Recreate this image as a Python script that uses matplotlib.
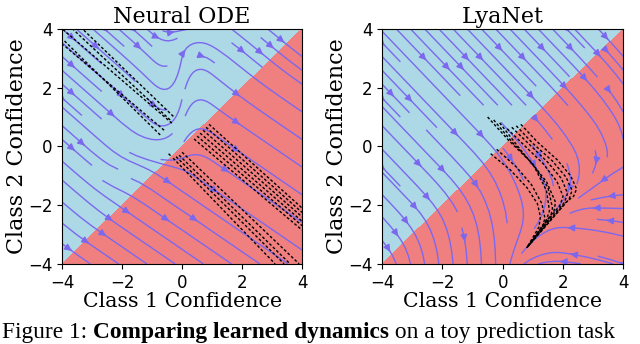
import numpy as np
import matplotlib.pyplot as plt

# coarse velocity field: direction of flow (degrees) at
# each grid node, rows from y=4 (top) down to y=-4, columns x=-4..4
grid_x = [-4, -3, -2, -1, 0, 1, 2, 3, 4]
grid_y = [4, 3, 2, 1, 0, -1, -2, -3, -4]

node_angles = [
    [-42, -42, -42, -42,  20, -20, -40, -40, -40],
    [-42, -42, -42, -45,  80, -38, -40, -40, -38],
    [-42, -42, -42, -45,  80, -40, -38, -36, -35],
    [-42, -42, -42, -45,  75, -36, -35, -35, -35],
    [-42, -42, -40,   0,  60, -35, -35, -35, -35],
    [-42, -40, -15, -35, -35, -35, -35, -35, -35],
    [-42, -40, -35, -35, -35, -35, -35, -35, -35],
    [-40, -35, -35, -35, -35, -35, -35, -35, -35],
    [-35, -35, -35, -35, -35, -35, -35, -35, -35],
]

lya_angles = [
    [-47, -47, -47, -47, -47, -47, -47, -47, -48],
    [-47, -47, -47, -47, -47, -47, -47, -48, -50],
    [-47, -47, -47, -47, -47, -47, -48, -50, -55],
    [-47, -47, -47, -47, -47, -48, -50, -53, -62],
    [-47, -47, -47, -47, -50, -55, -58, -65, -85],
    [-47, -47, -47, -50, -65, -60, -70, -120, -170],
    [-47, -47, -55, -65, -75, -80, -133, 180, 180],
    [-47, -60, -75, -80, -85, -130, 165, 170, 165],
    [-60, -80, -85, -88, -90, -160, 175, 165, 160],
]

# black dashed trajectories (x list, y list)
node_traj = [
    ([-0.34, -3.96], [0.79, 3.97]),
    ([-0.40, -3.62], [0.90, 3.97]),
    ([-0.29, -3.29], [1.02, 3.97]),
    ([-0.73, -3.96], [0.39, 3.63]),
    ([-0.60, -3.96], [0.55, 3.46]),
    ([0.90, 4.0], [0.75, -2.10]),
    ([0.80, 4.0], [0.65, -2.25]),
    ([0.70, 4.0], [0.55, -2.40]),
    ([0.60, 4.0], [0.45, -2.55]),
    ([0.50, 4.0], [0.35, -2.70]),
    ([0.40, 4.0], [0.25, -2.85]),
    ([0.00, 3.90], [-0.20, -4.0]),
    ([-0.10, 3.60], [-0.30, -4.0]),
    ([-0.20, 3.40], [-0.35, -4.0]),
    ([-0.30, 3.10], [-0.40, -4.0]),
    ([-0.45, -0.35], [-0.25, -0.35]),
]

lya_traj = [
    ([0.60, 1.15, 1.80, 2.25, 2.45, 2.35, 2.10, 0.80], [0.75, 0.15, -0.45, -1.00, -1.45, -1.70, -1.90, -3.45]),
    ([0.45, 1.00, 1.65, 2.10, 2.30, 2.20, 0.80], [0.70, 0.10, -0.50, -1.05, -1.50, -1.80, -3.45]),
    ([0.30, 0.90, 1.50, 1.95, 2.15, 2.05, 0.80], [0.65, 0.05, -0.55, -1.10, -1.60, -1.90, -3.45]),
    ([0.15, 0.75, 1.35, 1.80, 2.00, 1.90, 0.80], [0.60, 0.00, -0.60, -1.20, -1.70, -2.00, -3.45]),
    ([-0.50, 0.20, 0.90, 1.45, 1.75, 1.70, 0.80], [1.00, 0.20, -0.50, -1.20, -1.90, -2.20, -3.45]),
    ([-0.30, 0.35, 1.00, 1.50, 1.65, 1.60, 0.80], [0.90, 0.10, -0.60, -1.40, -2.10, -2.35, -3.45]),
    ([-0.10, 0.50, 1.05, 1.45, 1.55, 1.45, 0.80], [0.80, 0.00, -0.70, -1.50, -2.20, -2.50, -3.45]),
    ([-0.40, 0.25, 0.80, 1.15, 1.25, 1.20, 0.80], [-0.25, -0.80, -1.40, -1.95, -2.40, -2.75, -3.45]),
    ([-0.20, 0.45, 0.95, 1.30, 1.40, 1.30, 0.80], [-0.10, -0.70, -1.30, -1.95, -2.45, -2.80, -3.45]),
]

titles = ["Neural ODE", "LyaNet"]
ticks = [-4, -2, 0, 2, 4]

serif = "DejaVu Serif"
stream_col = "#7B68EE"

fig = plt.figure(figsize=(6.4, 3.44), dpi=100)
axes = [fig.add_axes([0.097, 0.233, 0.375, 0.683]),
        fig.add_axes([0.597, 0.233, 0.377, 0.683])]

X, Y = np.meshgrid(grid_x, grid_y[::-1])

for ax, title, angles, trajs in zip(axes, titles, [node_angles, lya_angles], [node_traj, lya_traj]):
    a = np.deg2rad(np.flipud(np.array(angles, dtype=float)))
    U, V = np.cos(a), np.sin(a)
    ax.contourf(X, Y, X - Y, levels=[-10, 0, 10], colors=["lightblue", "lightcoral"])
    ax.streamplot(X, Y, U, V, density=0.6, color=stream_col, linewidth=1.0, arrowsize=1.0)
    for xs, ys in trajs:
        ax.plot(xs, ys, color="k", ls="--", lw=1.0, dashes=(2, 1.5), zorder=5)
    ax.set_xlim(-4, 4)
    ax.set_ylim(-4, 4)
    ax.set_xticks(ticks)
    ax.set_yticks(ticks)
    ax.tick_params(labelsize=12)
    ax.set_title(title, family=serif, fontsize=16, pad=4)
    ax.set_xlabel("Class 1 Confidence", family=serif, fontsize=14.8, labelpad=0)
    ax.set_ylabel("Class 2 Confidence", family=serif, fontsize=16, labelpad=0)

# caption under the panels
fig.canvas.draw()
r = fig.canvas.get_renderer()
parts = [("Figure 1: ", "normal"), ("Comparing learned dynamics", "bold"), (" on a toy prediction task", "normal")]
x = 2
for s, w in parts:
    t = fig.text(x / 640, 6 / 344, s, family="Liberation Serif", fontsize=16.8, weight=w, va="baseline")
    x += t.get_window_extent(r).width

fig.savefig("out.png", dpi=100)
